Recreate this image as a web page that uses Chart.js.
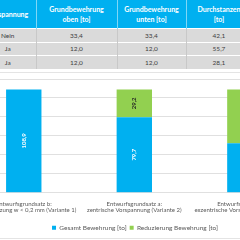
<!DOCTYPE html>
<html>
<head>
<meta charset="utf-8">
<script src="https://cdn.jsdelivr.net/npm/chart.js@4.4.1/dist/chart.umd.min.js"></script>
<style>
  html, body { margin: 0; padding: 0; background: #fff; width: 240px; height: 240px; overflow: hidden; position: relative; font-family: Lato, "Open Sans", sans-serif; }
  table { position: absolute; top: 0; left: -20px; width: 272px; border-collapse: collapse; table-layout: fixed; font-size: 6.5px; color: #404040; }
  th { background: #00B0F0; color: #fff; font-weight: bold; font-size: 7px; height: 28px; padding: 0; line-height: 10px; border-right: 1px solid #7fd7f7; text-align: center; vertical-align: middle; }
  td { background: #DADADA; height: 12.5px; padding: 0; text-align: center; border-top: 1px solid #fff; border-right: 1px solid #c8c8c8; }
  .rule { position: absolute; left: 0; width: 240px; height: 1px; background: #e4e4e4; }
  #wrap { position: absolute; top: 70px; left: -44px; width: 347px; height: 175px; }
</style>
</head>
<body>
<table>
  <colgroup><col style="width:56px"><col style="width:81px"><col style="width:69px"><col style="width:66px"></colgroup>
  <tr><th>Vorspannung</th><th>Grundbewehrung<br>oben [to]</th><th>Grundbewehrung<br>unten [to]</th><th>Durchstanzen<br>[to]</th></tr>
  <tr><td>Nein</td><td>33,4</td><td>33,4</td><td>42,1</td></tr>
  <tr><td>Ja</td><td>12,0</td><td>12,0</td><td>55,7</td></tr>
  <tr><td>Ja</td><td>12,0</td><td>12,0</td><td>28,1</td></tr>
</table>
<div class="rule" style="top:72px"></div>
<div class="rule" style="top:238px"></div>
<div id="wrap"><canvas id="barchart"></canvas></div>
<script>
const categories = [
    ['Entwurfsgrundsatz b:', 'Rissbegrenzung w < 0,2 mm (Variante 1)'],
    ['Entwurfsgrundsatz a:', 'zentrische Vorspannung (Variante 2)'],
    ['Entwurfsgrundsatz c:', 'exzentrische Vorspannung (Variante 3)']
];
const gesamt = [108.9, 79.7, 52.1];
const reduzierung = [0, 29.2, 56.8];
const seriesNames = ['Gesamt Bewehrung [to]', 'Reduzierung Bewehrung [to]'];

// rotated value labels in the middle of each bar segment
const barLabels = {
    id: 'barLabels',
    afterDatasetsDraw(chart) {
        const c = chart.ctx;
        chart.data.datasets.forEach(function (ds, i) {
            const meta = chart.getDatasetMeta(i);
            meta.data.forEach(function (bar, j) {
                const v = ds.data[j];
                if (!v) return;
                c.save();
                c.translate(bar.x, (bar.y + bar.base) / 2);
                c.rotate(-Math.PI / 2);
                c.font = 'bold 6px Lato';
                c.fillStyle = i === 0 ? '#ffffff' : '#262626';
                c.textAlign = 'center';
                c.textBaseline = 'middle';
                c.fillText(v.toFixed(1).replace('.', ','), 0, 0);
                c.restore();
            });
        });
    }
};

const ctx = document.getElementById('barchart').getContext('2d');
const barchart = new Chart(ctx, {
    type: 'bar',
    data: {
        labels: categories,
        datasets: [{
            label: seriesNames[0],
            data: gesamt,
            backgroundColor: '#00B0F0',
            barPercentage: 0.32,
            categoryPercentage: 1
        },
        {
            label: seriesNames[1],
            data: reduzierung,
            backgroundColor: '#92D050',
            barPercentage: 0.32,
            categoryPercentage: 1
        }]
    },
    options: {
        animation: false,
        responsive: true,
        maintainAspectRatio: false,
        layout: { padding: { left: 12.5, right: 1.5, top: 9, bottom: 4 } },
        plugins: {
            legend: {
                position: 'bottom',
                labels: { boxWidth: 4, boxHeight: 4, padding: 3, color: '#595959', font: { family: 'Lato', size: 6.5 } }
            },
            tooltip: { enabled: false }
        },
        scales: {
            x: {
                stacked: true,
                grid: { display: false, drawTicks: false },
                border: { display: false },
                ticks: { color: '#595959', font: { family: 'Lato', size: 6, lineHeight: 1.15 }, maxRotation: 0, autoSkip: false, padding: 7.5 }
            },
            y: {
                stacked: true,
                min: 0,
                max: 120,
                ticks: { display: false, stepSize: 20 },
                grid: { color: '#e0e0e0', drawTicks: false },
                border: { display: false }
            }
        }
    },
    plugins: [barLabels]
});
</script>
</body>
</html>
